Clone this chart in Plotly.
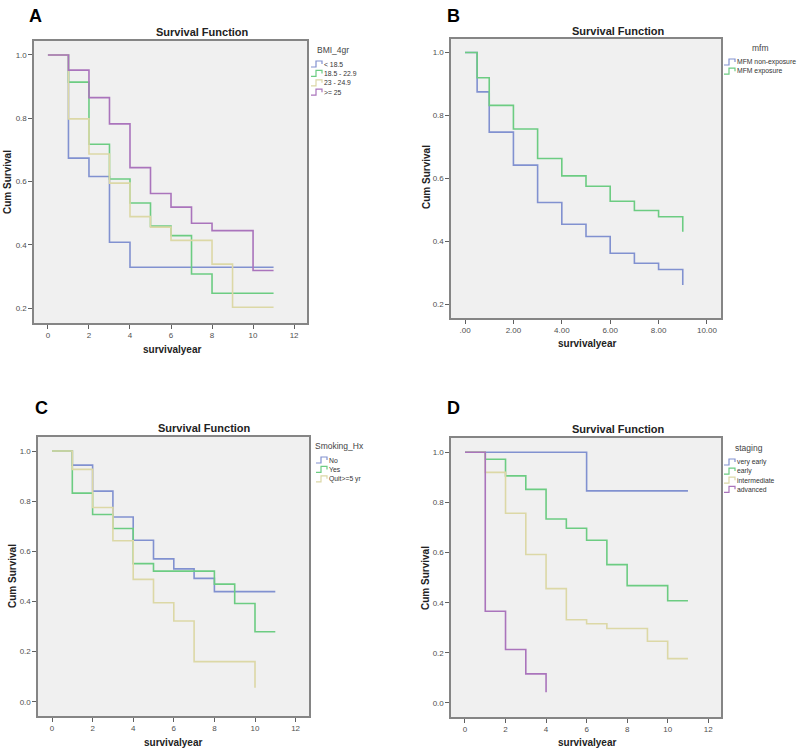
import plotly.graph_objects as go

W, H = 800, 752

# ---------------- DATA ----------------
# Panel A: BMI_4gr
a_names = ["< 18.5", "18.5 - 22.9", "23 - 24.9", ">= 25"]
a_t_lt185 = [0, 1, 2, 3, 4, 11]
a_s_lt185 = [1.0, 0.674, 0.616, 0.408, 0.329, 0.329]
a_t_185 = [0, 1, 2, 3, 4, 5, 6, 7, 8, 11]
a_s_185 = [1.0, 0.914, 0.718, 0.608, 0.532, 0.459, 0.429, 0.308, 0.247, 0.247]
a_t_23 = [0, 1, 2, 3, 4, 5, 6, 8, 9, 11]
a_s_23 = [1.0, 0.798, 0.687, 0.595, 0.489, 0.456, 0.414, 0.339, 0.203, 0.203]
a_t_25 = [0, 1, 2, 3, 4, 5, 6, 7, 8, 10, 11]
a_s_25 = [1.0, 0.952, 0.865, 0.782, 0.644, 0.562, 0.519, 0.468, 0.445, 0.319, 0.319]

# Panel B: mfm
b_names = ["MFM non-exposure", "MFM exposure"]
b_t = [0, 0.5, 1, 2, 3, 4, 5, 6, 7, 8, 9]
b_s_non = [1.0, 0.875, 0.747, 0.642, 0.523, 0.454, 0.415, 0.362, 0.330, 0.310, 0.261]
b_s_exp = [1.0, 0.920, 0.832, 0.757, 0.663, 0.608, 0.575, 0.527, 0.498, 0.478, 0.430]
b_ticks = [0, 2, 4, 6, 8, 10]
b_ticktext = [".00", "2.00", "4.00", "6.00", "8.00", "10.00"]

# Panel C: Smoking_Hx
c_names = ["No", "Yes", "Quit>=5 yr"]
c_t_no = [0, 1, 2, 3, 4, 5, 6, 7, 8, 11]
c_s_no = [1.0, 0.944, 0.840, 0.737, 0.644, 0.570, 0.530, 0.492, 0.439, 0.439]
c_t_yes = [0, 1, 2, 3, 4, 5, 8, 9, 10, 11]
c_s_yes = [1.0, 0.832, 0.747, 0.691, 0.551, 0.521, 0.469, 0.392, 0.279, 0.279]
c_t_quit = [0, 1, 2, 3, 4, 5, 6, 7, 10]
c_s_quit = [1.0, 0.927, 0.775, 0.642, 0.488, 0.395, 0.322, 0.160, 0.056]

# Panel D: staging
d_names = ["very early", "early", "intermediate", "advanced"]
d_t_very = [0, 6, 11]
d_s_very = [1.0, 0.846, 0.846]
d_t_early = [0, 1, 2, 3, 4, 5, 6, 7, 8, 10, 11]
d_s_early = [1.0, 0.972, 0.906, 0.852, 0.734, 0.697, 0.649, 0.552, 0.468, 0.408, 0.408]
d_t_inter = [0, 1, 2, 3, 4, 5, 6, 7, 9, 10, 11]
d_s_inter = [1.0, 0.920, 0.757, 0.592, 0.456, 0.332, 0.316, 0.297, 0.246, 0.177, 0.177]
d_t_adv = [0, 1, 2, 3, 4]
d_s_adv = [1.0, 0.366, 0.213, 0.116, 0.043]

# ---------------- STYLE ----------------
BLUE, GREEN, BEIGE, PURPLE = "#8191d0", "#6ccc82", "#dcd8a6", "#aa74bc"
FONT = "Liberation Sans, Arial, sans-serif"


def px(x):
    return x / W


def py(y):
    return 1 - y / H


fig = go.Figure()

panels = [
    dict(ax="", xd=(34, 307), yd=(41, 323), xr=[-0.68, 12.63], yr=[0.153, 1.044],
         series=[(a_t_lt185, a_s_lt185, BLUE), (a_t_185, a_s_185, GREEN),
                 (a_t_23, a_s_23, BEIGE), (a_t_25, a_s_25, PURPLE)],
         ltitle="BMI_4gr", lnames=a_names, lcolors=[BLUE, GREEN, BEIGE, PURPLE],
         ltx=333, lty=50, lgx=311, lgy=64, ldy=9.4,
         letter="A", letxy=(35, 16), title_xy=(203, 32), xt_xy=(172, 349), yt_xy=(7, 182),
         xticks=[0, 2, 4, 6, 8, 10, 12], xtt=None, yticks=[0.2, 0.4, 0.6, 0.8, 1.0]),
    dict(ax="2", xd=(451, 721), yd=(39, 318), xr=[-0.58, 10.58], yr=[0.156, 1.043],
         series=[(b_t, b_s_non, BLUE), (b_t, b_s_exp, GREEN)],
         ltitle="mfm", lnames=b_names, lcolors=[BLUE, GREEN],
         ltx=760, lty=48, lgx=724, lgy=62, ldy=9.2,
         letter="B", letxy=(453, 16), title_xy=(618, 31), xt_xy=(587, 344), yt_xy=(426, 177),
         xticks=b_ticks, xtt=b_ticktext, yticks=[0.2, 0.4, 0.6, 0.8, 1.0]),
    dict(ax="3", xd=(38, 309), yd=(437, 716), xr=[-0.69, 12.66], yr=[-0.057, 1.056],
         series=[(c_t_no, c_s_no, BLUE), (c_t_yes, c_s_yes, GREEN), (c_t_quit, c_s_quit, BEIGE)],
         ltitle="Smoking_Hx", lnames=c_names, lcolors=[BLUE, GREEN, BEIGE],
         ltx=339, lty=446, lgx=316, lgy=460, ldy=9.4,
         letter="C", letxy=(41, 408), title_xy=(205, 428), xt_xy=(173, 742), yt_xy=(12, 576),
         xticks=[0, 2, 4, 6, 8, 10, 12], xtt=None, yticks=[0.0, 0.2, 0.4, 0.6, 0.8, 1.0]),
    dict(ax="4", xd=(451, 721), yd=(438, 717), xr=[-0.69, 12.63], yr=[-0.056, 1.057],
         series=[(d_t_very, d_s_very, BLUE), (d_t_early, d_s_early, GREEN),
                 (d_t_inter, d_s_inter, BEIGE), (d_t_adv, d_s_adv, PURPLE)],
         ltitle="staging", lnames=d_names, lcolors=[BLUE, GREEN, BEIGE, PURPLE],
         ltx=749, lty=448, lgx=724, lgy=462, ldy=9.1,
         letter="D", letxy=(453, 408), title_xy=(618, 429), xt_xy=(587, 742), yt_xy=(425, 578),
         xticks=[0, 2, 4, 6, 8, 10, 12], xtt=None, yticks=[0.0, 0.2, 0.4, 0.6, 0.8, 1.0]),
]

annotations = []
shapes = []
layout_axes = {}

for p in panels:
    ax = p["ax"]
    for (t, s, c) in p["series"]:
        fig.add_trace(go.Scatter(x=t, y=s, mode="lines", line=dict(color=c, width=1.6, shape="hv"),
                                 xaxis="x" + ax, yaxis="y" + ax, showlegend=False, hoverinfo="skip"))
    common = dict(showline=True, mirror=True, linecolor="#858585", linewidth=1.6,
                  ticks="outside", ticklen=4, tickwidth=1, tickcolor="#606060",
                  showgrid=False, zeroline=False, fixedrange=True,
                  tickfont=dict(family=FONT, size=8, color="#505050"))
    xa = dict(common, domain=[px(p["xd"][0]), px(p["xd"][1])], range=p["xr"],
              tickvals=p["xticks"], anchor="y" + ax)
    if p["xtt"] is not None:
        xa["ticktext"] = p["xtt"]
    ya = dict(common, domain=[py(p["yd"][1]), py(p["yd"][0])], range=p["yr"],
              tickvals=p["yticks"], tickformat=".1f", anchor="x" + ax)
    layout_axes["xaxis" + ax] = xa
    layout_axes["yaxis" + ax] = ya

    annotations.append(dict(text="<b>%s</b>" % p["letter"], x=px(p["letxy"][0]), y=py(p["letxy"][1]),
                            xref="paper", yref="paper", showarrow=False, xanchor="center", yanchor="middle",
                            font=dict(family=FONT, size=18, color="#000")))
    annotations.append(dict(text="<b>Survival Function</b>", x=px(p["title_xy"][0]), y=py(p["title_xy"][1]),
                            xref="paper", yref="paper", showarrow=False, xanchor="center", yanchor="middle",
                            font=dict(family=FONT, size=11, color="#222")))
    annotations.append(dict(text="<b>survivalyear</b>", x=px(p["xt_xy"][0]), y=py(p["xt_xy"][1]),
                            xref="paper", yref="paper", showarrow=False, xanchor="center", yanchor="middle",
                            font=dict(family=FONT, size=10, color="#222")))
    annotations.append(dict(text="<b>Cum Survival</b>", x=px(p["yt_xy"][0]), y=py(p["yt_xy"][1]),
                            xref="paper", yref="paper", showarrow=False, xanchor="center", yanchor="middle",
                            textangle=-90, font=dict(family=FONT, size=10, color="#222")))
    annotations.append(dict(text=p["ltitle"], x=px(p["ltx"]), y=py(p["lty"]),
                            xref="paper", yref="paper", showarrow=False, xanchor="center", yanchor="middle",
                            font=dict(family=FONT, size=8.5, color="#444")))
    for i, (nm, col) in enumerate(zip(p["lnames"], p["lcolors"])):
        yc = p["lgy"] + i * p["ldy"]
        x0 = p["lgx"]
        path = "M %f,%f L %f,%f L %f,%f L %f,%f L %f,%f" % (
            px(x0), py(yc + 3), px(x0 + 5), py(yc + 3), px(x0 + 5), py(yc - 3),
            px(x0 + 11), py(yc - 3), px(x0 + 11), py(yc))
        shapes.append(dict(type="path", path=path, xref="paper", yref="paper",
                           line=dict(color=col, width=1.2)))
        annotations.append(dict(text=nm, x=px(x0 + 11), y=py(yc), xref="paper", yref="paper",
                                showarrow=False, xanchor="left", yanchor="middle",
                                font=dict(family=FONT, size=6.8, color="#333")))

fig.update_layout(
    width=W, height=H,
    margin=dict(l=0, r=0, t=0, b=0),
    paper_bgcolor="white", plot_bgcolor="#f0f0f0",
    showlegend=False,
    annotations=annotations, shapes=shapes,
    **layout_axes,
)

fig.write_html("out.html", config={"displayModeBar": False, "staticPlot": True},
               post_script="document.body.style.margin='0';document.body.style.overflow='hidden';")
